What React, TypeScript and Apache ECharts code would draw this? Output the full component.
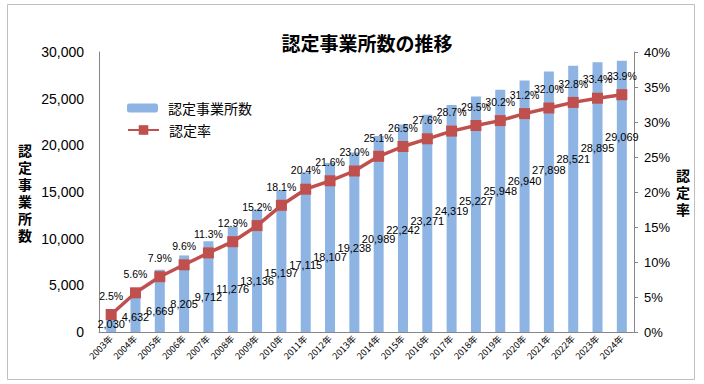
import React, { useEffect, useRef } from "react";
import * as echarts from "echarts";

const years = ["2003年","2004年","2005年","2006年","2007年","2008年","2009年","2010年","2011年","2012年","2013年","2014年","2015年","2016年","2017年","2018年","2019年","2020年","2021年","2022年","2023年","2024年"];
const offices = [2030,4632,6669,8205,9712,11276,13136,15197,17115,18107,19238,20989,22242,23271,24319,25227,25948,26940,27898,28521,28895,29069];
const rates = [2.5,5.6,7.9,9.6,11.3,12.9,15.2,18.1,20.4,21.6,23.0,25.1,26.5,27.6,28.7,29.5,30.2,31.2,32.0,32.8,33.4,33.9];
const leftTicks = [0, 5000, 10000, 15000, 20000, 25000, 30000];
const rightTicks = [0, 5, 10, 15, 20, 25, 30, 35, 40];

const FONT = "'Liberation Sans', 'Noto Sans CJK JP', sans-serif";
const CJK = "'Noto Sans CJK JP', sans-serif";

export default function App() {
  const ref = useRef<HTMLDivElement>(null);
  useEffect(() => {
    if (!ref.current) return;
    const chart = echarts.init(ref.current, null, { renderer: "svg" });
    const barData = offices.map((v, i) => {
      const rise = 9 + 6.4 * i + 0.119 * i * i; // label layout like the original
      return { value: v, label: { distance: Math.max(0, rise - 6.5) } };
    });
    chart.setOption({
      animation: false,
      backgroundColor: "#fff",
      textStyle: { fontFamily: FONT },
      title: {
        text: "認定事業所数の推移",
        left: 362,
        textAlign: "center",
        top: 28,
        textStyle: { fontSize: 19, fontWeight: "bold", color: "#000", fontFamily: CJK },
      },
      graphic: [
        {
          type: "rect",
          shape: { x: 7.5, y: 4.5, width: 687, height: 375 },
          style: { fill: "none", stroke: "#BFBFBF", lineWidth: 1 },
          silent: true,
        },
      ],
      legend: [
        {
          data: [{ name: "認定事業所数" }],
          orient: "vertical",
          left: 122,
          top: 96,
          itemWidth: 31,
          itemHeight: 9,
          textStyle: { fontSize: 14, color: "#000", fontFamily: CJK, padding: [0, 0, 0, 5] },
        },
        {
          data: [{ name: "認定率" }],
          orient: "vertical",
          left: 122,
          top: 118,
          itemWidth: 31,
          itemHeight: 12,
          textStyle: { fontSize: 14, color: "#000", fontFamily: CJK, padding: [0, 0, 0, 5] },
        },
      ],
      grid: { left: 99, right: 70, top: 52, bottom: 52, containLabel: false },
      xAxis: {
        type: "category",
        data: years,
        axisLine: { lineStyle: { color: "#868686", width: 1 } },
        axisTick: { show: false },
        axisLabel: { rotate: 45, interval: 0, fontSize: 9, color: "#000", margin: 5, fontFamily: CJK },
      },
      yAxis: [
        {
          type: "value",
          min: leftTicks[0],
          max: leftTicks[leftTicks.length - 1],
          interval: leftTicks[1] - leftTicks[0],
          name: "認\n定\n事\n業\n所\n数",
          nameLocation: "middle",
          nameRotate: 0,
          nameGap: 67,
          nameTextStyle: { fontSize: 14, fontWeight: "bold", color: "#000", fontFamily: CJK, lineHeight: 17 },
          axisLine: { show: true, lineStyle: { color: "#868686" } },
          axisTick: { show: false },
          splitLine: { show: false },
          axisLabel: {
            fontSize: 14,
            color: "#000",
            margin: 15,
            formatter: (v: number) => v.toLocaleString("en-US"),
          },
        },
        {
          type: "value",
          min: rightTicks[0],
          max: rightTicks[rightTicks.length - 1],
          interval: rightTicks[1] - rightTicks[0],
          name: "認\n定\n率",
          nameLocation: "middle",
          nameRotate: 0,
          nameGap: 41,
          nameTextStyle: { fontSize: 14, fontWeight: "bold", color: "#000", fontFamily: CJK, lineHeight: 17 },
          axisLine: { show: true, lineStyle: { color: "#868686" } },
          axisTick: { show: true, length: 4, lineStyle: { color: "#868686" } },
          splitLine: { show: false },
          axisLabel: { fontSize: 13, color: "#000", margin: 10, formatter: "{value}%" },
        },
      ],
      series: [
        {
          name: "認定事業所数",
          type: "bar",
          yAxisIndex: 0,
          barWidth: 10,
          data: barData,
          itemStyle: { color: "#8EB4E3" },
          label: {
            show: true,
            position: "insideBottom",
            fontSize: 11,
            color: "#000",
            formatter: (p: any) => Number(p.value).toLocaleString("en-US"),
          },
          z: 2,
        },
        {
          name: "認定率",
          type: "line",
          yAxisIndex: 1,
          data: rates,
          symbol: "rect",
          symbolSize: 11,
          lineStyle: { color: "#C0504D", width: 3.5 },
          itemStyle: { color: "#C0504D" },
          label: {
            show: true,
            position: "top",
            distance: 8,
            fontSize: 10.5,
            color: "#000",
            formatter: (p: any) => Number(p.value).toFixed(1) + "%",
          },
          z: 3,
        },
      ],
    });
    return () => chart.dispose();
  }, []);
  return (
    <div
      ref={ref}
      style={{ position: "fixed", left: 0, top: 0, width: 704, height: 384 }}
    />
  );
}
